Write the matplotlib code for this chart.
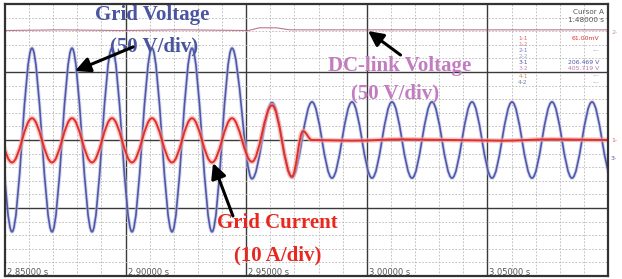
import matplotlib
matplotlib.use("Agg")
import matplotlib.pyplot as plt
from matplotlib.path import Path
from matplotlib.patches import PathPatch
import numpy as np

# ---- data (time in s, amplitude in divisions) ----
# times of the successive peaks / troughs of the 60 Hz traces
ext_t = [2.84461, 2.85290, 2.86119, 2.86949, 2.87778, 2.88607, 2.89436,
         2.90265, 2.91094, 2.91924, 2.92753, 2.93582, 2.94411, 2.95240,
         2.96070, 2.96899, 2.97728, 2.98557, 2.99386, 3.00216, 3.01045,
         3.01874, 3.02703, 3.03532, 3.04362, 3.05191, 3.06020, 3.06849,
         3.07678, 3.08507, 3.09337, 3.10166]

# grid voltage (50 V/div)
volt_v = [1.35, -1.35, 1.35, -1.35, 1.35, -1.35, 1.35,
          -1.35, 1.35, -1.35, 1.35, -1.35, 1.35, -0.57,
          0.55, -0.55, 0.56, -0.56, 0.56, -0.56, 0.56,
          -0.56, 0.56, -0.56, 0.56, -0.56, 0.56, -0.56,
          0.56, -0.56, 0.56, -0.56]

# grid current (10 A/div)
curr_t = [2.84461, 2.85290, 2.86119, 2.86949, 2.87778, 2.88607, 2.89436,
          2.90265, 2.91094, 2.91924, 2.92753, 2.93582, 2.94411, 2.95240,
          2.96070, 2.96899, 2.97355, 2.97728, 2.99386, 3.01460, 3.03532,
          3.05605, 3.07678, 3.10166]
curr_v = [0.32, -0.33, 0.32, -0.33, 0.32, -0.33, 0.32,
          -0.33, 0.32, -0.33, 0.32, -0.33, 0.32, -0.32,
          0.51, -0.54, 0.13, 0.0, -0.01, 0.01, 0.0,
          -0.01, 0.01, 0.0]

# dc-link voltage (50 V/div)
dc_t = [2.85, 2.873, 2.898, 2.923, 2.951, 2.9554, 2.9625, 2.968, 3.00, 3.05, 3.10]
dc_v = [1.61, 1.62, 1.61, 1.62, 1.61, 1.65, 1.65, 1.62, 1.62, 1.62, 1.62]

time_labels = ["2.85000 s", "2.90000 s", "2.95000 s", "3.00000 s", "3.05000 s"]
time_marks = [2.85, 2.90, 2.95, 3.00, 3.05]

cursor_rows = ["1-1", "1-2", "2-1", "2-2", "3-1", "3-2", "4-1", "4-2"]
cursor_vals = ["61.00mV", "", "---", "", "206.469 V", "405.719 V", "---", "---"]
row_cols = ["#e06060", "#d08080", "#7a80c0", "#9aa0d0", "#5058a8", "#c080c0", "#d09060", "#7080a8"]
val_cols = ["#e03030", "#999", "#999", "#999", "#5058a8", "#c070b0", "#999", "#999"]


def wave_path(ts, vs, k=0.3634):
    # smooth half-cycle segments between read extrema (cubic bezier, flat tangents)
    verts = [(ts[0], vs[0])]
    codes = [Path.MOVETO]
    for i in range(1, len(ts)):
        dt = ts[i] - ts[i - 1]
        verts += [(ts[i - 1] + k * dt, vs[i - 1]), (ts[i] - k * dt, vs[i]), (ts[i], vs[i])]
        codes += [Path.CURVE4] * 3
    return Path(verts, codes)


fig = plt.figure(figsize=(6.22, 2.79), dpi=100)
ax = fig.add_axes([5 / 622, 3 / 279, 603 / 622, 272 / 279])
ax.set_xlim(2.85, 3.10)
ax.set_ylim(-2, 2)

ax.set_xticks([2.90, 2.95, 3.00, 3.05])
ax.set_xticks(np.arange(2.86, 3.10, 0.01), minor=True)
ax.set_yticks([-1, 0, 1])
ax.set_yticks(np.arange(-1.8, 2.0, 0.2), minor=True)
ax.grid(which="major", color="#3a3a3a", lw=1.0, ls="-")
ax.grid(which="minor", color="#b5b5b5", lw=0.6, ls=(0, (2, 2)))
ax.tick_params(which="both", length=0, labelbottom=False, labelleft=False)
ax.set_axisbelow(True)
for s in ax.spines.values():
    s.set_color("#333333")
    s.set_linewidth(1.6)

# traces
ax.plot(dc_t, dc_v, color="#a84868", lw=0.8, alpha=0.75)

vp = wave_path(ext_t, volt_v)
ax.add_patch(PathPatch(vp, fill=False, edgecolor="#b8bce0", lw=2.6, alpha=0.6))
ax.add_patch(PathPatch(vp, fill=False, edgecolor="#5058a8", lw=1.2))

cp = wave_path(curr_t, curr_v)
ax.add_patch(PathPatch(cp, fill=False, edgecolor="#f5a8a8", lw=3.6, alpha=0.6))
ax.add_patch(PathPatch(cp, fill=False, edgecolor="#e0302a", lw=1.4))

# bottom time labels
for t, lab in zip(time_marks, time_labels):
    ax.text(t + 0.0008, -1.985, lab, fontsize=6, color="#555555", ha="left", va="baseline")

# cursor panel
tx = ax.transAxes
ax.text(0.993, 0.972, "Cursor A", fontsize=5.2, color="#555555", ha="right", va="center", transform=tx)
ax.text(0.993, 0.942, "1.48000 s", fontsize=5.2, color="#555555", ha="right", va="center", transform=tx)
row_y = [39, 45, 51, 57, 63, 69, 76, 83]
for i, (r, v) in enumerate(zip(cursor_rows, cursor_vals)):
    fy = (276 - row_y[i]) / 272
    ax.text((523 - 5) / 603, fy, r, fontsize=4.2, color=row_cols[i], ha="center", va="center", transform=tx)
    if v:
        ax.text((599 - 5) / 603, fy, v, fontsize=4.4, color=val_cols[i], ha="right", va="center", transform=tx)

# channel markers on the right
fig.text(611 / 622, 1 - 32 / 279, "2-", fontsize=4.5, color="#d090a0", va="center")
fig.text(611 / 622, 1 - 140 / 279, "1-", fontsize=4.5, color="#e06060", va="center")
fig.text(611 / 622, 1 - 158 / 279, "3-", fontsize=4.5, color="#5058a8", va="center")

# annotations
serif = dict(family="Liberation Serif", weight="bold", fontsize=15)
ax.text(0.2438, 0.9596, "Grid Voltage", color="#4a55a0", ha="center", va="center", transform=tx, **serif)
ax.text(0.2471, 0.8456, "(50 V/div)", color="#4a55a0", ha="center", va="center", transform=tx, **serif)
ax.text(0.655, 0.772, "DC-link Voltage", color="#c27cc0", ha="center", va="center", transform=tx, **serif)
ax.text(0.6468, 0.6728, "(50 V/div)", color="#c27cc0", ha="center", va="center", transform=tx, **serif)
ax.text(0.451, 0.1949, "Grid Current", color="#e8281e", ha="center", va="center", transform=tx, **serif)
ax.text(0.4527, 0.075, "(10 A/div)", color="#e8281e", ha="center", va="center", transform=tx, **serif)

arrow = dict(arrowstyle="-|>,head_length=0.9,head_width=0.45", color="black", lw=2.2, shrinkA=0, shrinkB=0)
ax.annotate("", xy=(0.1161, 0.7537), xytext=(0.2123, 0.842), xycoords=tx, textcoords=tx, arrowprops=arrow)
ax.annotate("", xy=(0.602, 0.9007), xytext=(0.656, 0.8125), xycoords=tx, textcoords=tx, arrowprops=arrow)
ax.annotate("", xy=(0.345, 0.4154), xytext=(0.378, 0.2206), xycoords=tx, textcoords=tx, arrowprops=arrow)

fig.savefig("out.png", dpi=100)
